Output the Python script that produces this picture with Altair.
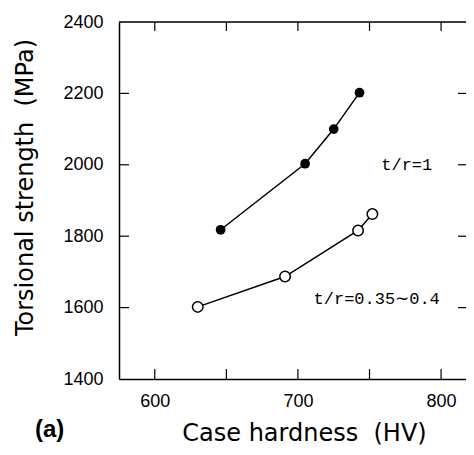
import altair as alt
import pandas as pd

# ---- data ----
hard_filled = [646, 705, 725, 743]
str_filled = [1818, 2003, 2100, 2202]
hard_open = [630, 691, 742, 752]
str_open = [1602, 1687, 1816, 1862]

x_tick_vals = [600, 650, 700, 750, 800]
y_tick_vals = [1600, 1800, 2000, 2200]
x_label_vals = [600, 700, 800]
y_label_vals = [1400, 1600, 1800, 2000, 2200, 2400]

ann_text = ["t/r=1", "t/r=0.35\u223c0.4"]
ann_x = [776, 755]
ann_y = [2000, 1625]

W, H = 347, 357

df_f = pd.DataFrame({"x": hard_filled, "y": str_filled})
df_o = pd.DataFrame({"x": hard_open, "y": str_open})
df_xt = pd.DataFrame({"x": x_tick_vals})
df_yt = pd.DataFrame({"y": y_tick_vals})
df_ann = pd.DataFrame({"x": ann_x, "y": ann_y, "t": ann_text})
df_one = pd.DataFrame({"a": [0]})

xs = alt.Scale(domain=[575, 817.4], nice=False, zero=False)
ys = alt.Scale(domain=[1400, 2400], nice=False, zero=False)

xaxis = alt.Axis(values=x_label_vals, format="d", ticks=False, grid=False,
                 domainColor="black", domainWidth=1.5, labelFontSize=18,
                 labelFont="Liberation Sans", labelColor="black", labelPadding=13,
                 titleFont="DejaVu Sans", titleFontSize=24, titleFontWeight="normal",
                 titleColor="black", titleX=185, titleY=61, titleBaseline="alphabetic")
yaxis = alt.Axis(values=y_label_vals, format="d", ticks=False, grid=False,
                 domainColor="black", domainWidth=1.5, labelFontSize=18,
                 labelFont="Liberation Sans", labelColor="black", labelPadding=16,
                 titleFont="DejaVu Sans", titleFontSize=24, titleFontWeight="normal",
                 titleColor="black", titleX=-82, titleY=165)

X = alt.X("x:Q", scale=xs, axis=xaxis, title="Case hardness\u00a0 (HV)")
Y = alt.Y("y:Q", scale=ys, axis=yaxis, title="Torsional strength\u00a0 (MPa)")

line_f = alt.Chart(df_f).mark_line(color="black", strokeWidth=1.5).encode(x=X, y=Y)
pts_f = alt.Chart(df_f).mark_point(shape="circle", filled=True, color="black",
                                   size=95, opacity=1).encode(x=X, y=Y)
line_o = alt.Chart(df_o).mark_line(color="black", strokeWidth=1.5).encode(x=X, y=Y)
pts_o = alt.Chart(df_o).mark_point(shape="circle", fill="white", stroke="black",
                                   strokeWidth=1.5, size=110, opacity=1,
                                   fillOpacity=1).encode(x=X, y=Y)

tick_bottom = alt.Chart(df_xt).mark_rule(color="black", strokeWidth=1.2).encode(
    x=X, y=alt.value(H), y2=alt.value(H - 10))
tick_top = alt.Chart(df_xt).mark_rule(color="black", strokeWidth=1.2).encode(
    x=X, y=alt.value(0), y2=alt.value(9))
tick_left = alt.Chart(df_yt).mark_rule(color="black", strokeWidth=1.2).encode(
    y=Y, x=alt.value(0), x2=alt.value(10))
tick_right = alt.Chart(df_yt).mark_rule(color="black", strokeWidth=1.2).encode(
    y=Y, x=alt.value(W - 8), x2=alt.value(W))
top_border = alt.Chart(df_one).mark_rule(color="black", strokeWidth=1.5).encode(
    x=alt.value(0), x2=alt.value(W), y=alt.value(0))

ann = alt.Chart(df_ann).mark_text(font="Liberation Mono", fontSize=17, color="black",
                                  align="center", baseline="middle").encode(
    x=X, y=Y, text="t:N")

chart = alt.layer(
    top_border, tick_bottom, tick_top, tick_left, tick_right,
    line_f, line_o, pts_f, pts_o, ann
).properties(
    width=W, height=H,
    title=alt.TitleParams("(a)", orient="bottom", anchor="start", frame="group",
                          dx=-84, dy=-12, font="Liberation Sans", fontSize=24,
                          fontWeight="bold", color="black", baseline="alphabetic"),
    autosize=alt.AutoSizeParams(type="none"),
    padding={"left": 111, "top": 14, "right": 0, "bottom": 68},
).configure_view(stroke=None).configure(background="white")

chart.save("out.html", embed_options={"renderer": "svg", "actions": False})
